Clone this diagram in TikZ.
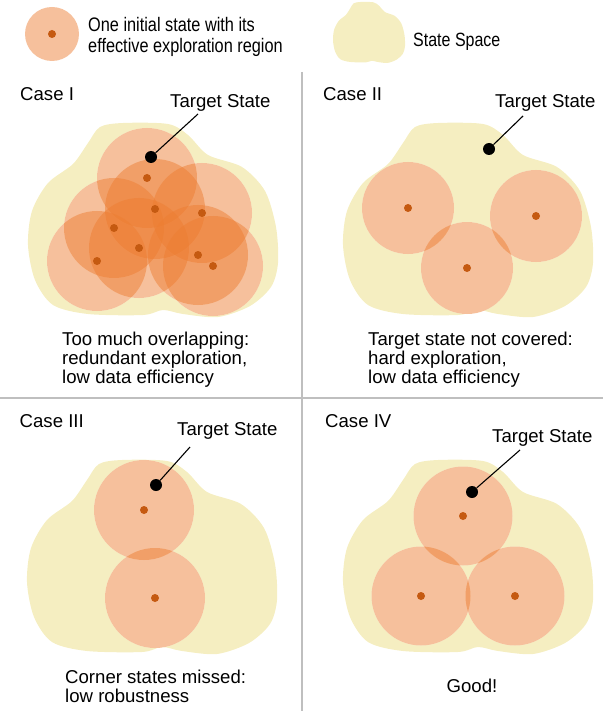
\documentclass[tikz,border=0pt]{standalone}
\usepackage{fontspec}
\setmainfont{Liberation Sans}
\usepackage{graphicx}
\definecolor{blobc}{RGB}{245,238,193}
\definecolor{circc}{RGB}{237,125,49}
\definecolor{dotc}{RGB}{197,90,17}
\definecolor{gridc}{RGB}{191,191,191}
\def\myblob{plot[smooth cycle, tension=0.5] coordinates {(72,4) (95,0) (140,1) (160,12) (180,32) (214,44) (237,68) (248,104) (250,140) (243,164) (222,183) (190,194) (155,191) (135,187) (115,192) (60,191) (25,182) (7,157) (0,122) (4,88) (20,60) (45,41) (60,20)}}
\newcommand\regionset[2]{%
  \foreach \p in {#2} \fill[white] \p circle[radius=#1pt];
  \foreach \p in {#2} \fill[circc, opacity=0.48] \p circle[radius=#1pt];
  \foreach \p in {#2} \fill[dotc] \p circle[radius=4pt];
}
\begin{document}
\begin{tikzpicture}[x=1pt,y=-1pt,
  txt/.style={font=\fontsize{18.6}{18.5}\selectfont, inner sep=0pt, anchor=base west},
  tdot/.style={circle, fill=black, minimum size=12pt, inner sep=0pt},
  tline/.style={line width=1.1pt, black},
  grid line/.style={gridc, line width=2pt}]
\useasboundingbox (0,0) rectangle (603,711);

% legend
\begin{scope}[shift={(333,2)}, xscale=0.288, yscale=0.314]
  \fill[blobc] \myblob;
\end{scope}
\regionset{27}{(52,34)}
\node[anchor=base west, inner sep=0pt] (leg1) at (88,32) {\scalebox{1}[1.2]{\fontsize{16.3}{17.5}\selectfont\begin{tabular}[t]{@{}l@{}}One initial state with its\\effective exploration region\end{tabular}}};
\node[anchor=base west, inner sep=0pt] (leg2) at (413,46.5) {\scalebox{1}[1.2]{\fontsize{16}{17}\selectfont State Space}};

% grid
\draw[grid line] (0,397.5) -- (603,397.5);
\draw[grid line] (302,72) -- (302,711);

% state spaces
\begin{scope}[shift={(28,123)}] \fill[blobc] \myblob; \end{scope}
\begin{scope}[shift={(343,123)}] \fill[blobc] \myblob; \end{scope}
\begin{scope}[shift={(27,460)}] \fill[blobc] \myblob; \end{scope}
\begin{scope}[shift={(343,460)}] \fill[blobc] \myblob; \end{scope}

% Case I
\regionset{50}{(147,178),(155,209),(202,213),(114,228),(139,248),(198,255),(213,266),(97,261)}
\node[txt] (c1) at (20,101) {Case I};
\node[tdot] (t1) at (151,157) {};
\node[txt] (ts1) at (170,107.5) {Target State};
\coordinate (e1) at (198,114);
\draw[tline] (t1) -- (e1);
\node[txt] (d1) at (62,345) {\begin{tabular}[t]{@{}l@{}}Too much overlapping:\\redundant exploration,\\low data efficiency\end{tabular}};

% Case II
\regionset{46}{(408,208),(536,216),(467,268)}
\node[txt] (c2) at (323,101) {Case II};
\node[tdot] (t2) at (489,149) {};
\node[txt] (ts2) at (495,107.5) {Target State};
\coordinate (e2) at (523,116);
\draw[tline] (t2) -- (e2);
\node[txt] (d2) at (368,345) {\begin{tabular}[t]{@{}l@{}}Target state not covered:\\hard exploration,\\low data efficiency\end{tabular}};

% Case III
\regionset{50}{(144,510),(155,598)}
\node[txt] (c3) at (19.5,427) {Case III};
\node[tdot] (t3) at (156,485) {};
\node[txt] (ts3) at (177,435) {Target State};
\coordinate (e3) at (190,447);
\draw[tline] (t3) -- (e3);
\node[txt] (d3) at (65,683) {\begin{tabular}[t]{@{}l@{}}Corner states missed:\\low robustness\end{tabular}};

% Case IV
\regionset{49.5}{(463,516),(421,596),(515,596)}
\node[txt] (c4) at (325,427) {Case IV};
\node[tdot] (t4) at (472,492) {};
\node[txt] (ts4) at (492,442) {Target State};
\coordinate (e4) at (520,450);
\draw[tline] (t4) -- (e4);
\node[txt, anchor=base] (d4) at (472,692) {Good!};
\end{tikzpicture}
\end{document}
